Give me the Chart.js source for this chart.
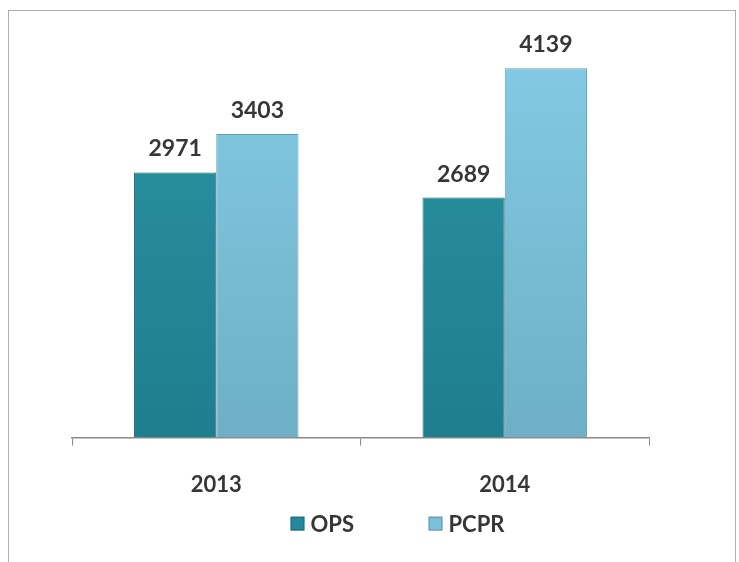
<!DOCTYPE html>
<html>
<head>
<meta charset="utf-8">
<script src="https://cdn.jsdelivr.net/npm/chart.js@4"></script>
<style>
  html, body { margin: 0; padding: 0; background: #fff; }
  #wrap { position: relative; width: 739px; height: 562px; overflow: hidden; }
  #frame { position: absolute; left: 8px; top: 10px; width: 728px; height: 600px;
           border: 1px solid #a9b0b6; box-sizing: border-box; }
  canvas { position: absolute; left: 0; top: 0; }
</style>
</head>
<body>
<div id="wrap">
  <div id="frame"></div>
  <canvas id="chart" width="739" height="562"></canvas>
</div>
<script>
const years = ['2013', '2014'];
const opsValues = [2971, 2689];
const pcprValues = [3403, 4139];
const seriesNames = ['OPS', 'PCPR'];

const FONT = 'Lato, "Open Sans", sans-serif';
const TEXT = '#363636';

// vertical gradient so the bars get a bit of the bevelled look
function barFill(top, bottom) {
  return ctx => {
    const area = ctx.chart.chartArea;
    if (!area) return top;
    const g = ctx.chart.ctx.createLinearGradient(0, area.top, 0, area.bottom);
    g.addColorStop(0, top);
    g.addColorStop(1, bottom);
    return g;
  };
}

// value labels above each bar
const valueLabels = {
  id: 'valueLabels',
  afterDatasetsDraw(chart) {
    const ctx = chart.ctx;
    ctx.save();
    ctx.font = 'bold 23px ' + FONT;
    ctx.fillStyle = TEXT;
    ctx.textAlign = 'center';
    ctx.textBaseline = 'alphabetic';
    chart.data.datasets.forEach((ds, i) => {
      chart.getDatasetMeta(i).data.forEach((bar, j) => {
        ctx.fillText(ds.data[j], bar.x, bar.y - 16);
      });
    });
    ctx.restore();
  }
};

// legend drawn under the axis, spaced like the original
const bottomLegend = {
  id: 'bottomLegend',
  afterDraw(chart) {
    const ctx = chart.ctx;
    const area = chart.chartArea;
    const y = area.bottom + 86;
    let x = (area.left + area.right) / 2 - 70;
    ctx.save();
    ctx.font = 'bold 22px ' + FONT;
    ctx.textBaseline = 'middle';
    chart.data.datasets.forEach((ds, i) => {
      ctx.fillStyle = ds.legendColor;
      ctx.fillRect(x, y - 7, 14, 14);
      ctx.strokeStyle = 'rgba(0,0,0,0.25)';
      ctx.lineWidth = 1;
      ctx.strokeRect(x + 0.5, y - 6.5, 13, 13);
      ctx.fillStyle = TEXT;
      ctx.textAlign = 'left';
      ctx.fillText(ds.label, x + 20, y + 1);
      x += 138;
    });
    ctx.restore();
  }
};

new Chart(document.getElementById('chart').getContext('2d'), {
  type: 'bar',
  data: {
    labels: years,
    datasets: [
      {
        label: seriesNames[0],
        data: opsValues,
        backgroundColor: barFill('#2a93a3', '#1f7e8e'),
        borderColor: '#1c6f7d',
        borderWidth: 1,
        legendColor: '#23899a'
      },
      {
        label: seriesNames[1],
        data: pcprValues,
        backgroundColor: barFill('#84cbe5', '#6eafc6'),
        borderColor: '#5f9fb5',
        borderWidth: 1,
        legendColor: '#7bbfd8'
      }
    ]
  },
  options: {
    responsive: false,
    animation: false,
    layout: { padding: { left: 72, right: 90, top: 36, bottom: 38 } },
    datasets: { bar: { categoryPercentage: 0.57, barPercentage: 1 } },
    plugins: {
      legend: { display: false },
      tooltip: { enabled: false }
    },
    scales: {
      x: {
        grid: {
          offset: true,
          drawOnChartArea: false,
          drawTicks: true,
          tickLength: 8,
          color: '#8a8a8a'
        },
        border: { display: true, color: '#8a8a8a', width: 1.5 },
        ticks: {
          padding: 26,
          color: TEXT,
          font: { family: FONT, size: 22, weight: 'bold' }
        }
      },
      y: {
        display: false,
        min: 0,
        max: 4500
      }
    }
  },
  plugins: [valueLabels, bottomLegend]
});
</script>
</body>
</html>
